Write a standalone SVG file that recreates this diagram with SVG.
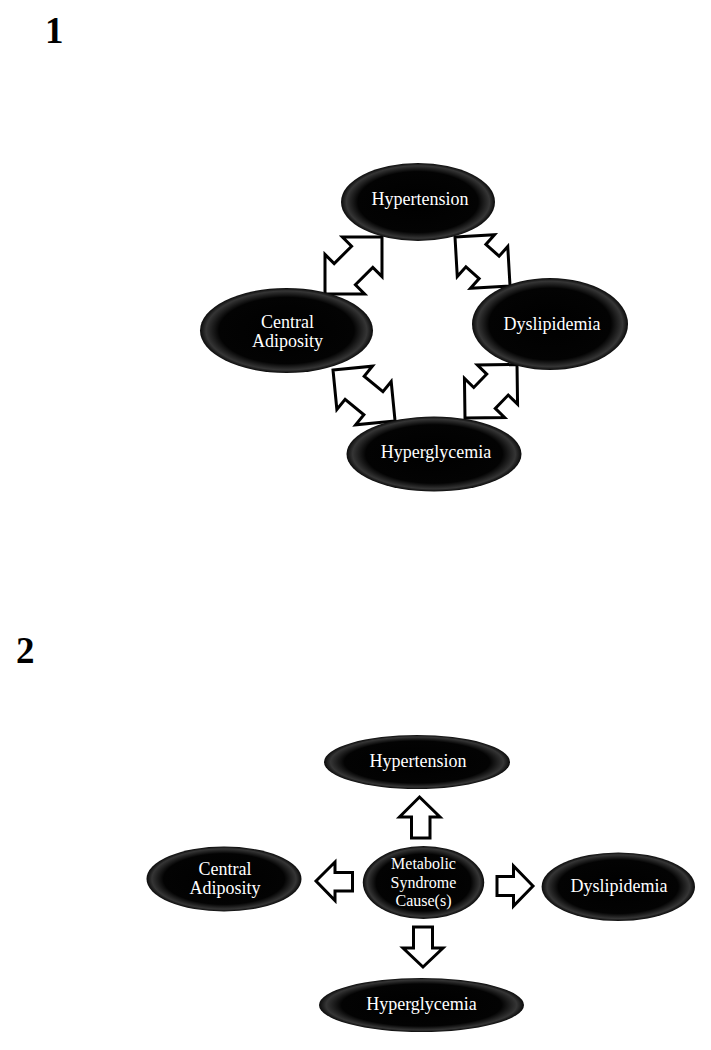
<svg xmlns="http://www.w3.org/2000/svg" width="711" height="1050" viewBox="0 0 711 1050">
<defs>
<radialGradient id="gloss" cx="50%" cy="50%" r="50%">
<stop offset="0" stop-color="#000"/>
<stop offset="0.78" stop-color="#030303"/>
<stop offset="0.93" stop-color="#353535"/>
<stop offset="1" stop-color="#0a0a0a"/>
</radialGradient>
</defs>
<style>
.node ellipse{fill:url(#gloss);}
.node text{font-family:"Liberation Serif","Times New Roman",serif;font-size:18px;fill:#fff;text-anchor:middle;}
.node text.sm{font-size:16px;}
.arr{fill:#fff;stroke:#000;stroke-width:3;stroke-linejoin:miter;}
.num{font-family:"Liberation Serif","Times New Roman",serif;font-size:37px;font-weight:bold;fill:#000;}
</style>
<rect width="711" height="1050" fill="#fff"/>
<text class="num" x="45" y="43">1</text>
<text class="num" x="16" y="663">2</text>
<g id="connectors">
<polygon class="arr" transform="translate(325,294) rotate(-45)" points="0,0 28,-28 28,-15 52.6,-15 52.6,-28 80.6,0 52.6,28 52.6,15 28,15 28,28"/>
<polygon class="arr" transform="translate(455,237) rotate(41.7)" points="0,0 28,-28 28,-15 45.7,-15 45.7,-28 73.7,0 45.7,28 45.7,15 28,15 28,28"/>
<polygon class="arr" transform="translate(333,370) rotate(39.4)" points="0,0 28,-28 28,-15 52.3,-15 52.3,-28 80.3,0 52.3,28 52.3,15 28,15 28,28"/>
<polygon class="arr" transform="translate(465,418) rotate(-45.8)" points="0,0 28,-28 28,-15 46.6,-15 46.6,-28 74.6,0 46.6,28 46.6,15 28,15 28,28"/>
<polygon class="arr" points="419.5,797 440,817 430,817 430,838 411.5,838 411.5,817 399.5,817"/>
<polygon class="arr" points="316,881 335,862 335,872.5 352.5,872.5 352.5,891 335,891 335,900.5"/>
<polygon class="arr" points="533,886 513.5,866 513.5,876.5 497,876.5 497,895.5 513.5,895.5 513.5,906"/>
<polygon class="arr" points="423,967 443,948 432.5,948 432.5,927 413.5,927 413.5,948 403,948"/>
</g>
<g id="n1-hypertension" class="node">
<ellipse cx="418" cy="202" rx="77" ry="39"/>
<text x="420" y="205">Hypertension</text>
</g>
<g id="n1-central-adiposity" class="node">
<ellipse cx="286.5" cy="330.5" rx="86.5" ry="42.5"/>
<text x="287.5" y="328">Central</text>
<text x="287.5" y="346.5">Adiposity</text>
</g>
<g id="n1-dyslipidemia" class="node">
<ellipse cx="550" cy="324" rx="78" ry="46"/>
<text x="552" y="330">Dyslipidemia</text>
</g>
<g id="n1-hyperglycemia" class="node">
<ellipse cx="434" cy="454" rx="87.5" ry="37.5"/>
<text x="436" y="458">Hyperglycemia</text>
</g>
<g id="n2-hypertension" class="node">
<ellipse cx="417" cy="762" rx="93" ry="27"/>
<text x="418" y="767">Hypertension</text>
</g>
<g id="n2-central-adiposity" class="node">
<ellipse cx="224" cy="879" rx="77.5" ry="32.5"/>
<text x="225" y="875">Central</text>
<text x="225" y="894">Adiposity</text>
</g>
<g id="n2-metabolic-syndrome" class="node">
<ellipse cx="423.5" cy="882.5" rx="60.7" ry="36.5"/>
<text class="sm" x="423.5" y="869">Metabolic</text>
<text class="sm" x="423.5" y="887.5">Syndrome</text>
<text class="sm" x="423.5" y="906">Cause(s)</text>
</g>
<g id="n2-dyslipidemia" class="node">
<ellipse cx="618.3" cy="886.7" rx="76.7" ry="34.3"/>
<text x="619" y="891.5">Dyslipidemia</text>
</g>
<g id="n2-hyperglycemia" class="node">
<ellipse cx="421.5" cy="1005" rx="102.5" ry="27"/>
<text x="421.5" y="1010">Hyperglycemia</text>
</g>
</svg>
